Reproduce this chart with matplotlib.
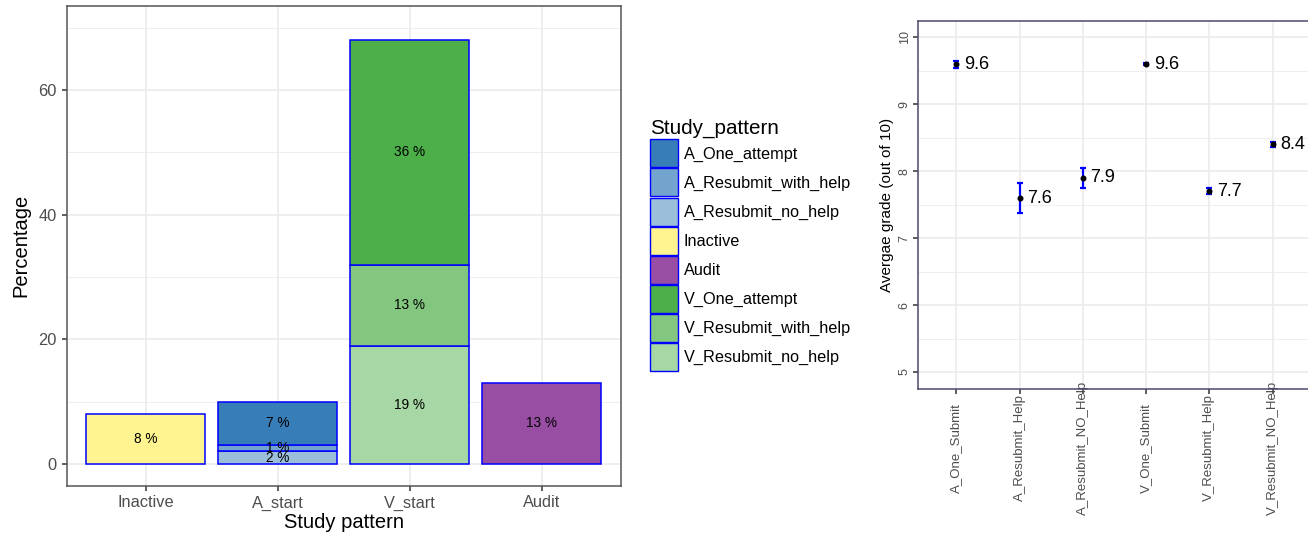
#!/usr/bin/env python3
"""Study pattern shares (stacked bars) and average grade per group (error bars)."""

import matplotlib.pyplot as plt
from matplotlib.patches import Patch
from matplotlib.ticker import MultipleLocator

# left panel data
categories = ["Inactive", "A_start", "V_start", "Audit"]
patterns = ["A_One_attempt", "A_Resubmit_with_help", "A_Resubmit_no_help", "Inactive",
            "Audit", "V_One_attempt", "V_Resubmit_with_help", "V_Resubmit_no_help"]
pattern_group = ["A_start", "A_start", "A_start", "Inactive",
                 "Audit", "V_start", "V_start", "V_start"]
percent = [7, 1, 2, 8, 13, 36, 13, 19]
fills = ["#377EB8", "#73A4CD", "#9BBEDB", "#FFF48F",
         "#984EA3", "#4DAF4A", "#82C680", "#A6D7A4"]

# right panel data
groups = ["A_One_Submit", "A_Resubmit_Help", "A_Resubmit_NO_Help",
          "V_One_Submit", "V_Resubmit_Help", "V_Resubmit_NO_Help"]
mean_grade = [9.6, 7.6, 7.9, 9.6, 7.7, 8.4]
grade_err = [0.05, 0.22, 0.153, 0.015, 0.045, 0.04]

plt.rcParams["font.family"] = ["Liberation Sans", "DejaVu Sans"]
GRID = "#EBEBEB"
TICK_GREY = "#4D4D4D"

W, H = 1308, 538
fig = plt.figure(figsize=(W / 100, H / 100), dpi=100)
ax1 = fig.add_axes([66.7 / W, 1 - 485.7 / H, 554 / W, 479.7 / H])
ax2 = fig.add_axes([918.3 / W, 1 - 388.7 / H, 392.3 / W, 368 / H])

# stacked bars, first pattern of a group on top
for i, cat in enumerate(categories):
    members = [k for k in range(len(patterns)) if pattern_group[k] == cat][::-1]
    bottom = 0
    for k in members:
        ax1.bar(i + 1, percent[k], width=0.9, bottom=bottom, color=fills[k],
                edgecolor="blue", linewidth=1.1, zorder=2)
        ax1.text(i + 1, bottom + percent[k] / 2, f"{percent[k]} %", ha="center",
                 va="center", fontsize=9.8, zorder=3)
        bottom += percent[k]

ax1.set_xlim(0.4, 4.6)
ax1.set_ylim(-3.5, 73.5)
ax1.set_xticks(range(1, len(categories) + 1), categories)
ax1.yaxis.set_major_locator(MultipleLocator(20))
ax1.yaxis.set_minor_locator(MultipleLocator(10))
ax1.set_xlabel("Study pattern", fontsize=14.5, labelpad=2)
ax1.set_ylabel("Percentage", fontsize=14.5, labelpad=6)

ax2.errorbar(range(1, len(groups) + 1), mean_grade, yerr=grade_err, fmt="o",
             color="black", markersize=3.3, ecolor="blue", elinewidth=1.6,
             capsize=2.5, capthick=1.6, zorder=3)
for i, m in enumerate(mean_grade):
    ax2.annotate(f"{m:.1f}", (i + 1, m), xytext=(5.5, 0), textcoords="offset points",
                 va="center", ha="left", fontsize=13)

ax2.set_xlim(0.4, 6.6)
ax2.set_ylim(4.75, 10.25)
ax2.set_xticks(range(1, len(groups) + 1), groups)
ax2.yaxis.set_major_locator(MultipleLocator(1))
ax2.yaxis.set_minor_locator(MultipleLocator(0.5))
ax2.set_ylabel("Avergae grade (out of 10)", fontsize=11, labelpad=3)
plt.setp(ax2.get_xticklabels(), rotation=90, va="center", ha="center")
plt.setp(ax2.get_yticklabels(), rotation=90, va="center", ha="right")

for ax, border in ((ax1, "#555555"), (ax2, "#4A4A6E")):
    ax.set_axisbelow(True)
    ax.grid(which="major", color=GRID, linewidth=1.2)
    ax.grid(which="minor", axis="y", color=GRID, linewidth=0.6)
    for sp in ax.spines.values():
        sp.set_color(border)
        sp.set_linewidth(1.1)
    ax.tick_params(which="major", length=3.5, width=1.1, color="#333333",
                   labelcolor=TICK_GREY)
    ax.tick_params(which="minor", length=0)

ax1.tick_params(labelsize=11.8)
ax2.tick_params(axis="y", labelsize=9, pad=2)
ax2.tick_params(axis="x", labelsize=9.5, pad=39)

handles = [Patch(facecolor=c, edgecolor="blue", linewidth=1.0) for c in fills]
fig.legend(handles, patterns, title="Study_pattern", loc="upper left",
           bbox_to_anchor=(650 / W, 1 - 119 / H), frameon=False, fontsize=11.7,
           title_fontsize=14.9, handlelength=1.72, handleheight=2.27,
           labelspacing=0.07, handletextpad=0.35, borderpad=0, borderaxespad=0,
           alignment="left")

fig.savefig("out.png", dpi=100)
